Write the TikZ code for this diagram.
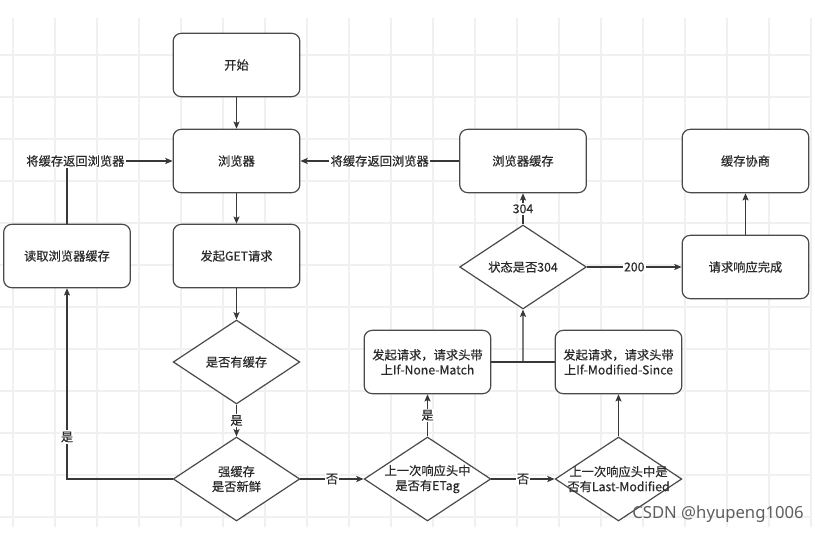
\documentclass[tikz,border=0pt]{standalone}
\usepackage{fontspec}
\setmainfont{Noto Sans CJK SC}[FakeBold=0.35]
\newfontfamily\markfont{Noto Sans}
\usetikzlibrary{arrows.meta,shapes.geometric,calc}
\definecolor{Ink}{HTML}{2A2A2A}
\definecolor{EdgeGray}{HTML}{383838}
\definecolor{BoxGray}{HTML}{4A4A4A}
\definecolor{GridLine}{HTML}{F0F0F0}
\definecolor{MarkGray}{HTML}{5E5E5E}

\begin{document}
\begin{tikzpicture}[x=0.75pt,y=-0.75pt,>={Stealth[length=5.5pt,width=4.6pt,inset=1.2pt]},
  every node/.style={font=\fontsize{9.2}{11.2}\selectfont,text=Ink,align=center},
  stepbox/.style={rectangle,rounded corners=6pt,draw=BoxGray,line width=0.9pt,fill=white,
    minimum width=95pt,minimum height=47.5pt,inner sep=2pt},
  decision/.style={diamond,draw=BoxGray,line width=0.9pt,fill=white,
    minimum width=95pt,minimum height=63pt,inner sep=0pt},
  elabel/.style={fill=white,inner sep=1pt},
  flow/.style={->,EdgeGray,line width=0.8pt}]
  \useasboundingbox (0,0) rectangle (815,534);
  % light drawing grid behind the chart
  \begin{scope}
    \clip (0,18) rectangle (812,527);
    \foreach \gx in {13,55,...,811}
      \draw[GridLine,line width=0.8pt] (\gx,18) -- (\gx,527);
    \foreach \gy in {55,97,...,527}
      \draw[GridLine,line width=0.8pt] (0,\gy) -- (812,\gy);
  \end{scope}
  \node[stepbox] (start) at (236.5,65) {开始};
  \node[stepbox] (browser) at (236.5,161) {浏览器};
  \node[stepbox] (get) at (236.5,256) {发起GET请求};
  \node[stepbox] (readcache) at (67,256) {读取浏览器缓存};
  \node[decision] (hascache) at (236.5,362) {是否有缓存};
  \node[decision] (fresh) at (236.5,479) {};
  \node (freshtext) at (fresh) {强缓存\\是否新鲜};
  \node[decision] (etag) at (427.5,479) {};
  \node (etagtext) at (etag) {上一次响应头中\\是否有ETag};
  \node[decision] (lastmod) at (618.5,479) {};
  \node (lastmodtext) at (lastmod) {上一次响应头中是\\否有Last-Modified};
  \node[stepbox] (nonematch) at (427.5,362) {发起请求，请求头带\\上If-None-Match};
  \node[stepbox] (modsince) at (618.5,362) {发起请求，请求头带\\上If-Modified-Since};
  \node[decision] (status) at (523,267) {状态是否304};
  \node[stepbox] (bcache) at (523,161) {浏览器缓存};
  \node[stepbox] (done) at (745.5,267) {请求响应完成};
  \node[stepbox] (negotiate) at (745.5,161) {缓存协商};
  \draw[flow] (start) -- (browser);
  \draw[flow] (browser) -- (get);
  \draw[flow] (get) -- (hascache);
  \draw[flow] (hascache) -- node[elabel]{是} (fresh);
  \draw[flow] (fresh) -- node[elabel]{否} (etag);
  \draw[flow] (etag) -- node[elabel]{否} (lastmod);
  \draw[flow] (etag) -- node[elabel]{是} (nonematch);
  \draw[flow] (lastmod) -- (modsince);
  \draw[flow] (fresh.west) -| node[elabel,pos=0.61]{是} (readcache.south);
  \draw[flow] (readcache.north) |- node[elabel,pos=0.54]{将缓存返回浏览器} (browser.west);
  \draw[flow] (bcache) -- node[elabel]{将缓存返回浏览器} (browser);
  \coordinate (merge) at ($(nonematch.east)!0.5!(modsince.west)$);
  \draw[EdgeGray,line width=0.8pt] (nonematch) -- (merge) -- (modsince);
  \draw[flow] (merge) -- (status);
  \draw[flow] (status) -- node[elabel]{304} (bcache);
  \draw[flow] (status) -- node[elabel]{200} (done);
  \draw[flow] (done) -- (negotiate);
  \node[font=\markfont\fontsize{12.5}{14}\selectfont,text=MarkGray] (mark) at (718,514) {CSDN @hyupeng1006};
\end{tikzpicture}
\end{document}
